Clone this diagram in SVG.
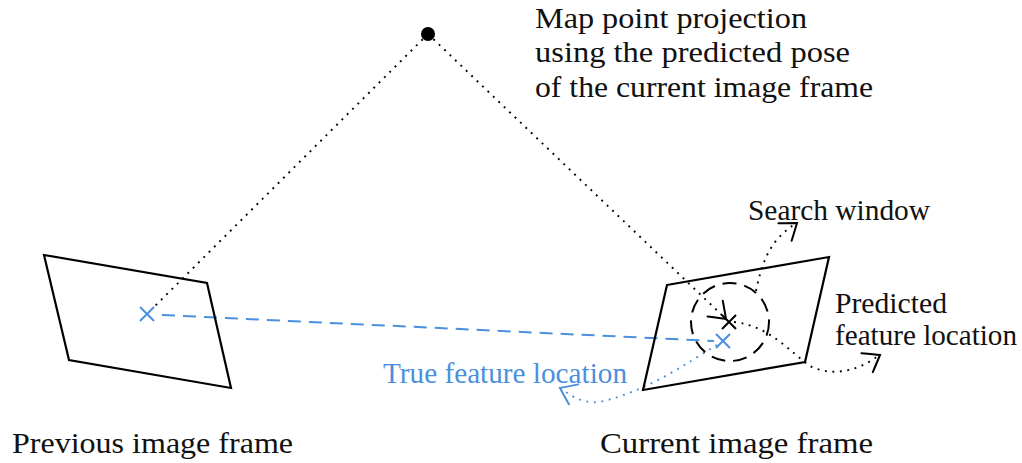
<svg xmlns="http://www.w3.org/2000/svg" width="1022" height="463" viewBox="0 0 1022 463">
  <style>
    .frame { fill: none; stroke: #000; stroke-width: 2.2; stroke-linejoin: miter; }
    .lbl { font-family: "Liberation Serif", "Times New Roman", serif; font-size: 30px; fill: #111; }
    .blue-lbl { fill: #4a90dc; }
    .dot { fill: none; stroke: #000; stroke-width: 1.9; stroke-dasharray: 1.9 5.6; }
    .dot-blue { fill: none; stroke: #4a90dc; stroke-width: 1.9; stroke-dasharray: 1.9 5.6; }
    .dash-blue { fill: none; stroke: #4a90dc; stroke-width: 2; stroke-dasharray: 13 8; }
    .tip { fill: none; stroke: #000; stroke-width: 2; stroke-linecap: round; }
    .tip-blue { fill: none; stroke: #4a90dc; stroke-width: 2; stroke-linecap: round; }
    .cross { stroke: #000; stroke-width: 2; }
    .cross-blue { stroke: #4a90dc; stroke-width: 2; }
  </style>
  <defs>
    <!-- curved "to"-style arrow tip, pointing along +x with the tip at the origin -->
    <path id="tipShape" d="M -15,-11 Q -4,-3 0,0 Q -4,3 -15,11"/>
  </defs>

  <rect width="1022" height="463" fill="#fff"/>

  <!-- connectors -->
  <g id="connectors">
    <!-- projection rays from the map point -->
    <line class="dot" x1="428" y1="34" x2="153" y2="308"/>
    <line class="dot" x1="428" y1="34" x2="726" y2="319"/>
    <use href="#tipShape" class="tip" transform="translate(726,319) rotate(43.7)"/>
    <!-- correspondence between the two frames -->
    <line class="dash-blue" x1="162" y1="315" x2="714" y2="341"/>
    <!-- search window pointer -->
    <path class="dot" d="M 756,291 C 762,262 770,240 795,224"/>
    <use href="#tipShape" class="tip" transform="translate(797,223) rotate(-37)"/>
    <!-- predicted feature pointer -->
    <path class="dot" d="M 734,322 C 770,326 790,352 810,366 C 830,376 855,373 878,356"/>
    <use href="#tipShape" class="tip" transform="translate(880,355) rotate(-31)"/>
    <!-- true feature pointer -->
    <path class="dot-blue" d="M 717,345 C 685,364 650,390 600,402 Q 580,404 562,389"/>
    <use href="#tipShape" class="tip-blue" transform="translate(560,388) rotate(205)"/>
  </g>

  <!-- map point -->
  <g id="map-point">
    <circle cx="428" cy="34" r="7" fill="#000"/>
    <text class="lbl" x="535" y="28" textLength="272" lengthAdjust="spacingAndGlyphs">Map point projection</text>
    <text class="lbl" x="535" y="62" textLength="315" lengthAdjust="spacingAndGlyphs">using the predicted pose</text>
    <text class="lbl" x="535" y="97" textLength="338" lengthAdjust="spacingAndGlyphs">of the current image frame</text>
  </g>

  <!-- previous image frame -->
  <g id="previous-frame">
    <polygon class="frame" points="44,255 207,283 231,388 69,360"/>
    <path class="cross-blue" d="M 140,307 L 154,321 M 140,321 L 154,307"/>
    <text class="lbl" x="12" y="453" textLength="281" lengthAdjust="spacingAndGlyphs">Previous image frame</text>
  </g>

  <!-- current image frame -->
  <g id="current-frame">
    <polygon class="frame" points="667,285 829,257 805,362 643,390"/>
    <text class="lbl" x="600" y="453" textLength="273" lengthAdjust="spacingAndGlyphs">Current image frame</text>
  </g>

  <!-- search window around the predicted location -->
  <g id="search-window">
    <circle cx="730" cy="322" r="39" fill="none" stroke="#000" stroke-width="2" stroke-dasharray="14 8"/>
    <text class="lbl" x="748" y="220" textLength="182" lengthAdjust="spacingAndGlyphs">Search window</text>
  </g>

  <!-- predicted feature location -->
  <g id="predicted-feature">
    <path class="cross" d="M 722,315 L 736,329 M 722,329 L 736,315"/>
    <text class="lbl" x="835" y="313" textLength="112" lengthAdjust="spacingAndGlyphs">Predicted</text>
    <text class="lbl" x="835" y="345" textLength="182" lengthAdjust="spacingAndGlyphs">feature location</text>
  </g>

  <!-- true feature location -->
  <g id="true-feature">
    <path class="cross-blue" d="M 716,334 L 730,348 M 716,348 L 730,334"/>
    <text class="lbl blue-lbl" x="383" y="383" textLength="244" lengthAdjust="spacingAndGlyphs">True feature location</text>
  </g>
</svg>
